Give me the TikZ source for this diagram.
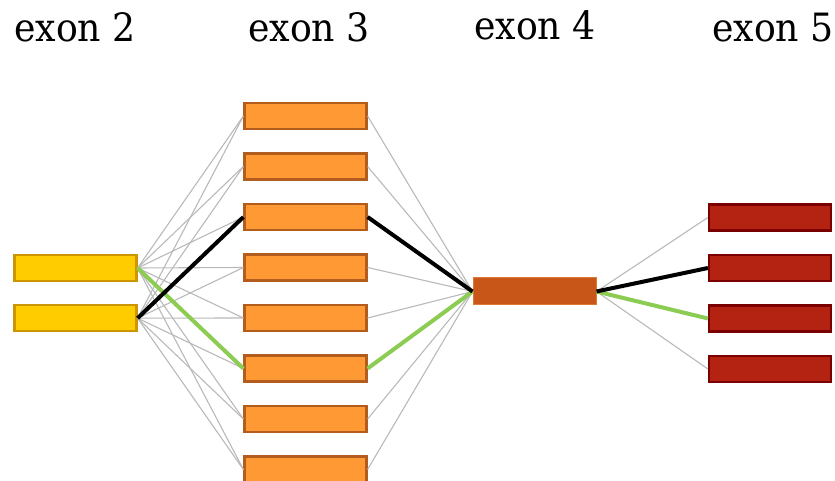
\documentclass[tikz,border=0pt]{standalone}
\usepackage{fontspec}
\setmainfont{DejaVu Serif}[FakeStretch=0.93]
\usepackage{xcolor}
\usepackage{tikz}
\usetikzlibrary{positioning}

\definecolor{extwofill}{RGB}{255,204,0}
\definecolor{extwoline}{RGB}{204,150,0}
\definecolor{exthreefill}{RGB}{255,153,51}
\definecolor{exthreeline}{RGB}{178,92,30}
\definecolor{exfourfill}{RGB}{200,86,24}
\definecolor{exfourline}{RGB}{222,122,52}
\definecolor{exfivefill}{RGB}{180,34,18}
\definecolor{exfiveline}{RGB}{122,0,0}
\definecolor{junctiongrey}{RGB}{185,185,185}
\definecolor{pathgreen}{RGB}{140,204,82}

\begin{document}
\begin{tikzpicture}[
        x=1pt, y=1pt,
        node distance=22.3pt,
        exonbox/.style={rectangle, line width=2.2pt, minimum width=122pt, minimum height=26pt, inner sep=0pt},
        exontwo/.style={exonbox, fill=extwofill, draw=extwoline},
        exonthree/.style={exonbox, fill=exthreefill, draw=exthreeline},
        exonfour/.style={exonbox, fill=exfourfill, draw=exfourline, line width=1pt, minimum width=123pt, minimum height=27pt},
        exonfive/.style={exonbox, fill=exfivefill, draw=exfiveline},
        exonname/.style={anchor=base, font=\fontsize{39}{44}\selectfont},
        junction/.style={draw=junctiongrey, line width=1.1pt},
        usedblack/.style={draw=black, line width=4pt},
        usedgreen/.style={draw=pathgreen, line width=4pt}
    ]
        \useasboundingbox (0,0) rectangle (835,481);

        % Labels
        \node[exonname] (name2) at (75,439) {exon 2};
        \node[exonname] (name3) at (309,439) {exon 3};
        \node[exonname] (name4) at (535,441) {exon 4};
        \node[exonname] (name5) at (773,439) {exon 5};

        % Exon boxes
        \node[exontwo] (ex2-1) at (75.5,213) {};
        \node[exontwo, below=22pt of ex2-1] (ex2-2) {};
        \node[exonthree] (ex3-1) at (305.5,365) {};
        \foreach \i [count=\j from 2] in {1,...,7}
            \node[exonthree, below=of ex3-\i] (ex3-\j) {};
        \node[exonfour] (ex4) at (534.5,189.5) {};
        \node[exonfive] (ex5-1) at (770,263.5) {};
        \foreach \i [count=\j from 2] in {1,...,3}
            \node[exonfive, below=of ex5-\i] (ex5-\j) {};

        % Junctions
        \foreach \i in {1,...,8} {
            \draw[junction] (ex2-1.east) -- (ex3-\i.west);
            \draw[junction] (ex2-2.east) -- (ex3-\i.west);
            \draw[junction] (ex3-\i.east) -- (ex4.west);
        }
        \foreach \i in {1,...,4}
            \draw[junction] (ex4.east) -- (ex5-\i.west);

        % Highlighted transcripts
        \draw[usedgreen] (ex2-1.east) -- (ex3-6.west);
        \draw[usedgreen] (ex3-6.east) -- (ex4.west);
        \draw[usedgreen] (ex4.east) -- (ex5-3.west);
        \draw[usedblack] (ex2-2.east) -- (ex3-3.west);
        \draw[usedblack] (ex3-3.east) -- (ex4.west);
        \draw[usedblack] (ex4.east) -- (ex5-2.west);
    \end{tikzpicture}
\end{document}
